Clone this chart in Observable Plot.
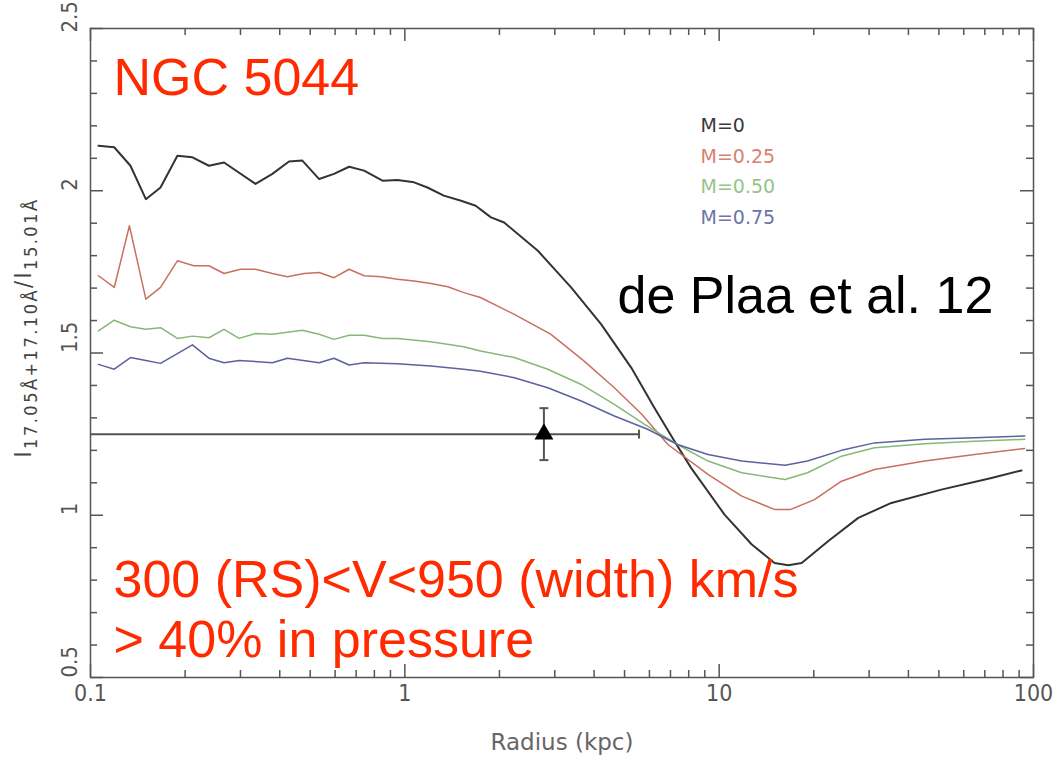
<!DOCTYPE html>
<html><head><meta charset="utf-8">
<script src="https://cdn.jsdelivr.net/npm/d3@7"></script>
<script src="https://cdn.jsdelivr.net/npm/@observablehq/plot@0.6"></script>
<style>body{margin:0;background:#fff} svg{display:block}</style>
</head><body><div id="chart"></div>
<script>
// ---- data ----
const rM0 = [0.106,0.119,0.134,0.150,0.167,0.189,0.211,0.238,0.266,0.335,0.379,0.428,0.472,0.534,0.595,0.665,0.742,0.849,0.948,1.07,1.18,1.33,1.51,1.68,1.88,2.07,2.65,3.38,4.21,5.25,6.22,7.21,8.14,10.4,12.7,15.0,16.6,18.3,22.2,27.7,35.3,50.9,73.5,91.6];
const vM0 = [2.139,2.134,2.077,1.974,2.010,2.108,2.103,2.077,2.087,2.021,2.052,2.090,2.093,2.036,2.052,2.074,2.062,2.031,2.033,2.026,2.010,1.985,1.969,1.954,1.918,1.902,1.815,1.702,1.589,1.455,1.331,1.228,1.146,1.002,0.910,0.853,0.846,0.853,0.920,0.992,1.038,1.079,1.115,1.138];
const rM25 = [0.106,0.119,0.133,0.150,0.167,0.189,0.213,0.238,0.266,0.300,0.335,0.379,0.423,0.478,0.534,0.595,0.665,0.742,0.840,0.948,1.07,1.21,1.37,1.54,1.74,2.23,2.91,3.72,4.64,5.67,6.87,9.21,11.8,15.0,16.9,20.1,24.5,31.2,45.1,65.0,93.8];
const vM25 = [1.738,1.702,1.892,1.666,1.702,1.784,1.769,1.769,1.745,1.758,1.758,1.745,1.735,1.745,1.748,1.732,1.758,1.738,1.735,1.727,1.722,1.714,1.704,1.686,1.671,1.619,1.558,1.475,1.393,1.311,1.218,1.126,1.059,1.018,1.018,1.048,1.105,1.141,1.167,1.187,1.206];
const rM50 = [0.106,0.119,0.134,0.150,0.167,0.189,0.211,0.238,0.266,0.297,0.335,0.379,0.472,0.534,0.595,0.665,0.742,0.849,0.948,1.21,1.54,1.74,2.23,2.85,3.64,4.64,5.79,7.37,9.21,11.8,16.2,19.1,24.5,31.2,45.1,65.0,93.8];
const vM50 = [1.568,1.601,1.581,1.573,1.578,1.545,1.552,1.547,1.573,1.545,1.560,1.558,1.570,1.558,1.542,1.555,1.555,1.545,1.545,1.535,1.519,1.506,1.486,1.450,1.403,1.342,1.280,1.218,1.167,1.131,1.110,1.131,1.182,1.208,1.220,1.228,1.234];
const rM75 = [0.106,0.119,0.134,0.150,0.167,0.211,0.238,0.266,0.297,0.379,0.423,0.534,0.595,0.665,0.742,0.948,1.21,1.54,1.74,2.23,2.85,3.64,4.64,5.92,7.37,9.21,11.8,16.2,19.1,24.5,31.2,45.1,65.0,93.8];
const vM75 = [1.465,1.450,1.486,1.477,1.468,1.525,1.484,1.470,1.477,1.470,1.484,1.470,1.484,1.463,1.470,1.467,1.460,1.450,1.444,1.424,1.393,1.352,1.306,1.265,1.218,1.187,1.167,1.154,1.167,1.200,1.223,1.234,1.239,1.244];

const seriesNames = ["M=0","M=0.25","M=0.50","M=0.75"];
const lineColors  = ["#333333","#c8705e","#86b878","#5c62a0"];
const textColors  = ["#3a3a3a","#d9826f","#94c48a","#6c74a8"];
const lineWidths  = [2, 1.5, 1.5, 1.5];

// measurement point with error bars
const measR = 2.77, measV = 1.25, measVLo = 1.17, measVHi = 1.33, measRLo = 0.1, measRHi = 5.56;

const xTickLabels = [0.1, 1, 10, 100];
const xTickText = ["0.1","1","10","100"];
const yTickLabels = [0.5, 1, 1.5, 2, 2.5];
const yTickText = ["0.5","1","1.5","2","2.5"];

const notes = {
  name: "NGC 5044",
  ref: "de Plaa et al. 12",
  line1: "300 (RS)<V<950 (width) km/s",
  line2: "> 40% in pressure"
};

// ---- build ----
const rs = [rM0, rM25, rM50, rM75], vs = [vM0, vM25, vM50, vM75];
const rows = rs.flatMap((r, k) => r.map((x, i) => ({series: seriesNames[k], k, r: x, v: vs[k][i]})));

const xMinor = [0.1, 1, 10].flatMap(d => d3.range(2, 10).map(m => +(d * m).toPrecision(3)));
const yMinor = d3.range(6, 25).map(d => d / 10).filter(d => !yTickLabels.includes(d));

const W = 1058, H = 767, mL = 90, mR = 25, mT = 28, mB = 90;
const fw = W - mL - mR, fh = H - mT - mB;
const axisColor = "#555";
const tickFont = "'Liberation Sans Narrow','DejaVu Sans Condensed','Liberation Sans',Arial,sans-serif";
const wideFont = "'DejaVu Sans',Verdana,sans-serif";
const annFont = "'Liberation Sans',Arial,sans-serif";

const capH = {draw(ctx, size) { const w = Math.sqrt(size); ctx.moveTo(-w/2, 0); ctx.lineTo(w/2, 0); }};
const capV = {draw(ctx, size) { const w = Math.sqrt(size); ctx.moveTo(0, -w/2); ctx.lineTo(0, w/2); }};

const tickStyle = {stroke: axisColor, strokeWidth: 1.5};
const yLab = yTickLabels.map((d, i) => ({d, t: yTickText[i]}));
const marks = [
  // ticks (inward, on all four sides)
  Plot.tickX(xTickLabels, {x: d => d, insetTop: fh - 13, ...tickStyle}),
  Plot.tickX(xTickLabels, {x: d => d, insetBottom: fh - 13, ...tickStyle}),
  Plot.tickX(xMinor, {x: d => d, insetTop: fh - 7, ...tickStyle}),
  Plot.tickX(xMinor, {x: d => d, insetBottom: fh - 7, ...tickStyle}),
  Plot.tickY(yTickLabels, {y: d => d, insetRight: fw - 13, ...tickStyle}),
  Plot.tickY(yTickLabels, {y: d => d, insetLeft: fw - 13, ...tickStyle}),
  Plot.tickY(yMinor, {y: d => d, insetRight: fw - 7, ...tickStyle}),
  Plot.tickY(yMinor, {y: d => d, insetLeft: fw - 7, ...tickStyle}),
  // tick labels
  Plot.text(xTickLabels, {x: d => d, text: (d, i) => xTickText[i], frameAnchor: "bottom", dy: 23, fontSize: 23, fill: "#555", fontFamily: tickFont}),
  Plot.text(yLab.slice(0, 4), {y: "d", text: "t", frameAnchor: "left", dx: -21, rotate: -90, fontSize: 22, fill: "#555", fontFamily: tickFont}),
  Plot.text(yLab.slice(4), {y: "d", text: "t", frameAnchor: "left", dx: -21, dy: 4, rotate: -90, fontSize: 22, fill: "#555", fontFamily: tickFont}),
  Plot.text([ "Radius (kpc)" ], {text: d => d, frameAnchor: "bottom", dy: 72, fontSize: 23, fill: "#666", fontFamily: wideFont}),
  // measurement
  Plot.ruleY([measV], {x1: measRLo, x2: measRHi, stroke: "#555", strokeWidth: 2}),
  Plot.dot([measRHi], {x: d => d, y: measV, symbol: capV, r: 5, stroke: "#555", strokeWidth: 2, fill: "none"}),
  Plot.ruleX([measR], {y1: measVLo, y2: measVHi, stroke: "#555", strokeWidth: 2}),
  Plot.dot([measVLo, measVHi], {x: measR, y: d => d, symbol: capH, r: 5, stroke: "#555", strokeWidth: 2, fill: "none"}),
  Plot.dot([measR], {x: d => d, y: measV, symbol: "triangle", r: 7, fill: "#000", stroke: "none"}),
  // model curves
  Plot.line(rows, {x: "r", y: "v", z: "series", stroke: d => lineColors[d.k], strokeWidth: d => lineWidths[d.k], curve: "linear", strokeLinejoin: "round"}),
  Plot.frame({stroke: axisColor, strokeWidth: 1.5}),
  // legend
  ...seriesNames.map((s, i) => Plot.text([s], {text: d => d, frameAnchor: "top-left", dx: 610, dy: 90 + i * 30.7, fontSize: 19, fill: textColors[i], fontFamily: wideFont})),
  // annotations
  Plot.text([notes.name], {text: d => d, frameAnchor: "top-left", dx: 23, dy: 30, lineAnchor: "top", fontSize: 52, fill: "#ff2a00", fontFamily: annFont}),
  Plot.text([notes.ref], {text: d => d, frameAnchor: "top-left", dx: 527, dy: 248, lineAnchor: "top", fontSize: 52, fill: "#000", fontFamily: annFont}),
  Plot.text([notes.line1], {text: d => d, frameAnchor: "top-left", dx: 23, dy: 532, lineAnchor: "top", fontSize: 52, fill: "#ff2a00", fontFamily: annFont}),
  Plot.text([notes.line2], {text: d => d, frameAnchor: "top-left", dx: 23, dy: 592, lineAnchor: "top", fontSize: 52, fill: "#ff2a00", fontFamily: annFont})
];

const chart = Plot.plot({
  width: W, height: H,
  marginLeft: mL, marginRight: mR, marginTop: mT, marginBottom: mB,
  x: {type: "log", domain: [0.1, 100], axis: null},
  y: {domain: [0.5, 2.5], axis: null},
  style: {background: "#fff", overflow: "visible"},
  marks
});

// y-axis title with subscripts
const svg = d3.select(chart);
const yt = svg.append("text")
  .attr("transform", `translate(31, ${mT + fh / 2 - 25}) rotate(-90)`)
  .attr("text-anchor", "middle")
  .attr("fill", "#444")
  .attr("font-family", tickFont)
  .attr("font-size", 23)
  .attr("letter-spacing", 2.5);
yt.append("tspan").text("I");
yt.append("tspan").attr("font-size", 18).attr("dy", 6).text("17.05Å+17.10Å");
yt.append("tspan").attr("dy", -6).text("/I");
yt.append("tspan").attr("font-size", 18).attr("dy", 6).text("15.01Å");

document.getElementById("chart").appendChild(chart);
</script>
</body></html>
